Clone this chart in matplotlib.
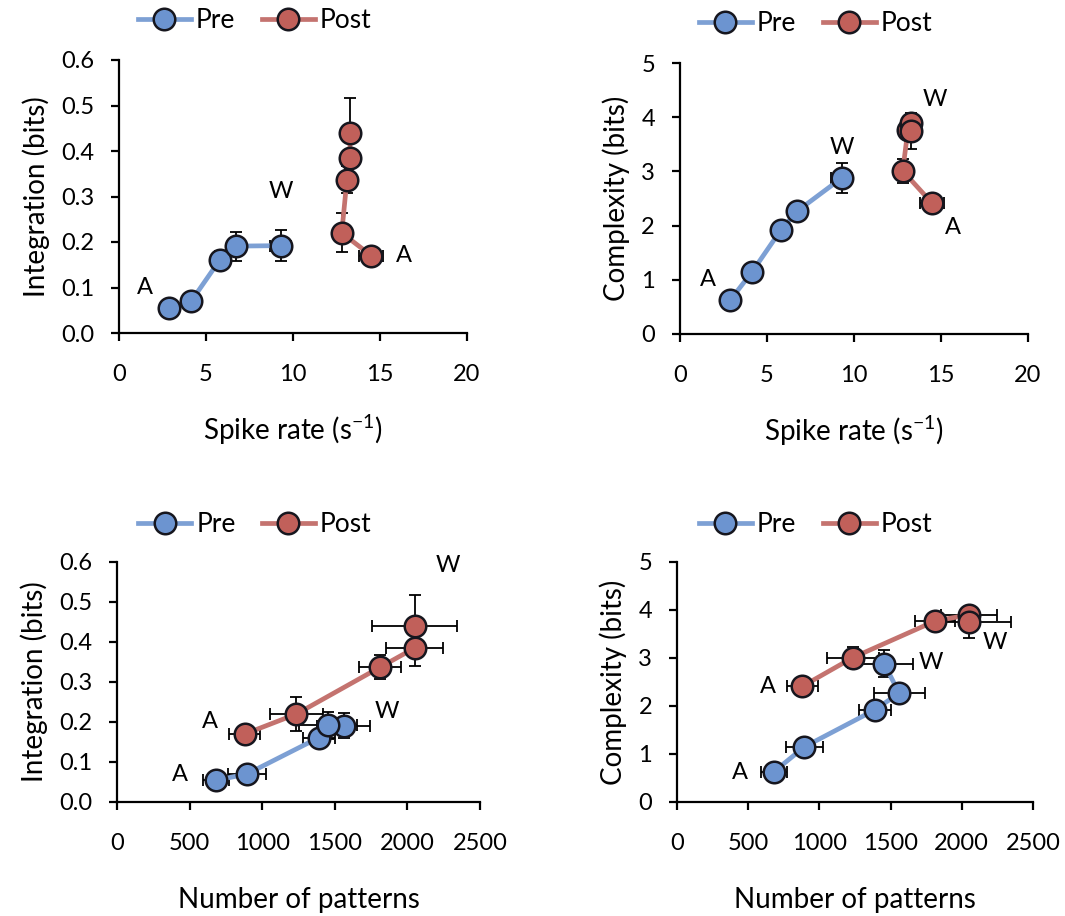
import matplotlib.pyplot as plt
import numpy as np

plt.rcParams['font.family'] = ['Lato', 'DejaVu Sans']
plt.rcParams['axes.unicode_minus'] = False

# Pre condition (A -> W)
pre_rate = [2.9, 4.15, 5.8, 6.75, 9.3]
pre_rate_err = [0.15, 0.15, 0.2, 0.3, 0.6]
pre_patterns = [680, 895, 1390, 1560, 1455]
pre_patterns_err = [90, 130, 110, 180, 200]
pre_integ = [0.054, 0.070, 0.161, 0.191, 0.192]
pre_integ_err = [0.005, 0.005, 0.02, 0.032, 0.034]
pre_compl = [0.63, 1.15, 1.92, 2.27, 2.88]
pre_compl_err = [0.05, 0.06, 0.08, 0.1, 0.28]

# Post condition (A -> W)
post_rate = [14.5, 12.8, 13.1, 13.3, 13.25]
post_rate_err = [0.7, 0.15, 0.3, 0.25, 0.2]
post_patterns = [880, 1236, 1812, 2050, 2050]
post_patterns_err = [108, 185, 142, 195, 293]
post_integ = [0.170, 0.220, 0.337, 0.385, 0.440]
post_integ_err = [0.008, 0.043, 0.03, 0.045, 0.077]
post_compl = [2.41, 3.01, 3.77, 3.9, 3.74]
post_compl_err = [0.06, 0.22, 0.1, 0.1, 0.33]

pre_line = '#7da0d4'
pre_fill = '#6c94d0'
post_line = '#c4736f'
post_fill = '#c1605a'
edge = '#16161e'

fig = plt.figure(figsize=(10.65, 9.16), dpi=100)
W, H = 1065, 916


def add_ax(x0, x1, y0, y1):
    return fig.add_axes([x0 / W, 1 - y0 / H, (x1 - x0) / W, (y0 - y1) / H])


def draw(ax, x, y, xe, ye, lc, fc, label):
    ax.plot(x, y, '-', color=lc, lw=3.4, zorder=2, label=label,
            marker='o', ms=15.5, mfc=fc, mec=edge, mew=1.8)
    ax.errorbar(x, y, xerr=xe, yerr=ye, fmt='none', ecolor='black',
                elinewidth=1.3, capsize=4, capthick=1.3, zorder=1)


def style(ax, xlim, xticks, ylim, yticks, yfmt, xlabel, ylabel, legx, xpad):
    ax.set_xlim(*xlim)
    ax.set_ylim(*ylim)
    ax.set_xticks(xticks)
    ax.set_yticks(yticks)
    ax.set_yticklabels([yfmt.format(v) for v in yticks])
    for s in ['top', 'right']:
        ax.spines[s].set_visible(False)
    for s in ['left', 'bottom']:
        ax.spines[s].set_linewidth(1.6)
    ax.tick_params(direction='out', length=6, width=1.6, labelsize=17)
    ax.tick_params(axis='x', pad=16)
    ax.tick_params(axis='y', pad=12)
    ax.set_xlabel(xlabel, fontsize=20, labelpad=xpad)
    ax.set_ylabel(ylabel, fontsize=20, labelpad=8)
    ax.legend(loc='lower center', bbox_to_anchor=(legx, 1.06), ncol=2,
              frameon=False, fontsize=19, handlelength=2.0,
              handletextpad=0.2, columnspacing=1.0, borderaxespad=0)


rate_label = 'Spike rate (s' + r'$^{\mathregular{-1}}$' + ')'

# top left
ax = add_ax(119, 467, 333, 60)
draw(ax, pre_rate, pre_integ, pre_rate_err, pre_integ_err, pre_line, pre_fill, 'Pre')
draw(ax, post_rate, post_integ, post_rate_err, post_integ_err, post_line, post_fill, 'Post')
style(ax, (0, 20), [0, 5, 10, 15, 20], (0, 0.6), np.arange(0, 0.61, 0.1),
      '{:.1f}', rate_label, 'Integration (bits)', 0.39, 20)
ax.text(1.5, 0.10, 'A', fontsize=17, ha='center', va='center')
ax.text(9.3, 0.31, 'W', fontsize=17, ha='center', va='center')
ax.text(16.4, 0.17, 'A', fontsize=17, ha='center', va='center')

# top right
ax = add_ax(680, 1028, 334, 63)
draw(ax, pre_rate, pre_compl, pre_rate_err, pre_compl_err, pre_line, pre_fill, 'Pre')
draw(ax, post_rate, post_compl, post_rate_err, post_compl_err, post_line, post_fill, 'Post')
style(ax, (0, 20), [0, 5, 10, 15, 20], (0, 5), [0, 1, 2, 3, 4, 5],
      '{:.0f}', rate_label, 'Complexity (bits)', 0.39, 20)
ax.text(1.6, 1.0, 'A', fontsize=17, ha='center', va='center')
ax.text(9.3, 3.45, 'W', fontsize=17, ha='center', va='center')
ax.text(14.65, 4.32, 'W', fontsize=17, ha='center', va='center')
ax.text(15.7, 1.96, 'A', fontsize=17, ha='center', va='center')

# bottom left
ax = add_ax(117, 480, 802, 562)
draw(ax, pre_patterns, pre_integ, pre_patterns_err, pre_integ_err, pre_line, pre_fill, 'Pre')
draw(ax, post_patterns, post_integ, post_patterns_err, post_integ_err, post_line, post_fill, 'Post')
style(ax, (0, 2500), [0, 500, 1000, 1500, 2000, 2500], (0, 0.6),
      np.arange(0, 0.61, 0.1), '{:.1f}', 'Number of patterns', 'Integration (bits)', 0.38, 24)
ax.text(434, 0.068, 'A', fontsize=17, ha='center', va='center')
ax.text(640, 0.2, 'A', fontsize=17, ha='center', va='center')
ax.text(1860, 0.225, 'W', fontsize=17, ha='center', va='center')
ax.text(2280, 0.59, 'W', fontsize=17, ha='center', va='center')

# bottom right
ax = add_ax(677, 1033, 802, 562)
draw(ax, pre_patterns, pre_compl, pre_patterns_err, pre_compl_err, pre_line, pre_fill, 'Pre')
draw(ax, post_patterns, post_compl, post_patterns_err, post_compl_err, post_line, post_fill, 'Post')
style(ax, (0, 2500), [0, 500, 1000, 1500, 2000, 2500], (0, 5), [0, 1, 2, 3, 4, 5],
      '{:.0f}', 'Number of patterns', 'Complexity (bits)', 0.39, 24)
ax.text(442, 0.62, 'A', fontsize=17, ha='center', va='center')
ax.text(640, 2.4, 'A', fontsize=17, ha='center', va='center')
ax.text(1785, 2.9, 'W', fontsize=17, ha='center', va='center')
ax.text(2233, 3.33, 'W', fontsize=17, ha='center', va='center')

fig.savefig('out.png', dpi=100)
